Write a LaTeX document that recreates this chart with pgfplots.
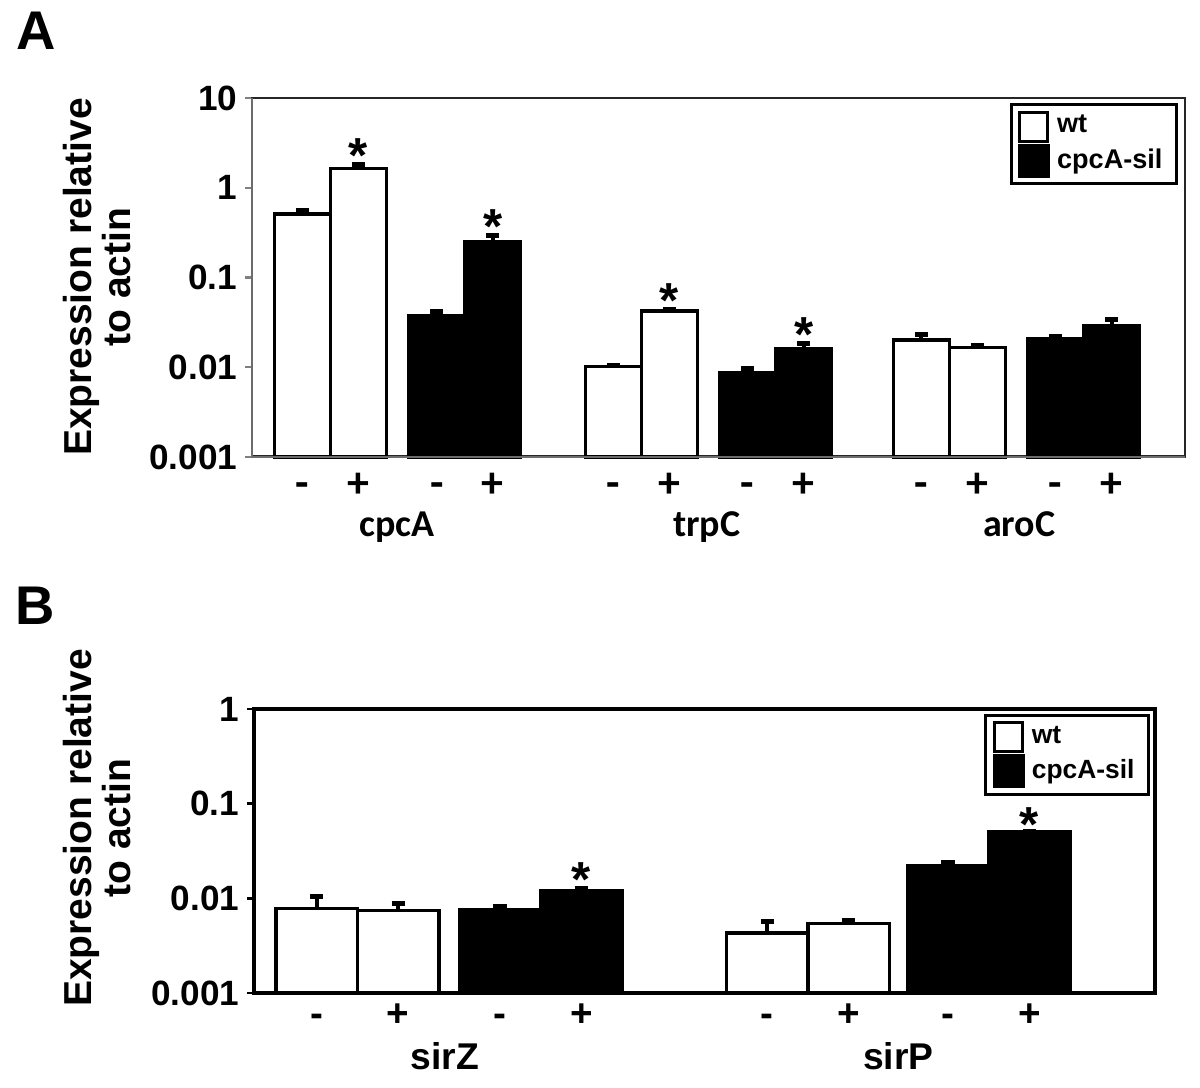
\documentclass[border=0pt]{standalone}
\usepackage{fontspec}
\setmainfont{Liberation Sans}
\newfontfamily\calibri{Carlito}
\usepackage{pgfplots}
\pgfplotsset{compat=1.18}
\pgfplotsset{
  errs/.style={error bars/y dir=plus, error bars/y explicit,
    error bars/error bar style={line width=1.2pt, black},
    error bars/error mark options={rotate=90, line width=1.4pt, mark size=1.9pt, black}},
  wtbar/.style={ybar, bar width=1, bar shift=0pt, fill=white, draw=black, line width=0.9pt, errs,
    legend image code/.code={\draw[fill=white, draw=black, line width=0.85pt] (0cm,-0.145cm) rectangle (0.28cm,0.145cm);}},
  silbar/.style={ybar, bar width=1, bar shift=0pt, fill=black, draw=black, line width=0.9pt, errs,
    legend image code/.code={\draw[fill=black, draw=black, line width=0.85pt] (0cm,-0.155cm) rectangle (0.29cm,0.155cm);}},
}
\tikzset{sigstar/.style={anchor=base, font=\bfseries\fontsize{14}{14}\selectfont, inner sep=0pt, yshift=-0.08cm}}
\begin{document}
\begin{tikzpicture}
\path[use as bounding box] (0,0) rectangle (12cm,10.88cm);
% ---------------- Panel A ----------------
\node[font=\bfseries\fontsize{15.5}{15.5}\selectfont] at (0.36cm,10.57cm) {A};
\node[rotate=90, align=center, font=\bfseries\fontsize{11.1}{9.9}\selectfont] at (0.97cm,8.11cm) {Expression relative\\to actin};
\begin{axis}[at={(2.52cm,6.31cm)}, anchor=south west, width=9.33cm, height=3.59cm,
  scale only axis, ymode=log, log origin y=infty, clip=false,
  ymin=0.001, yminorticks=false,
  tick align=outside, ytick pos=left, major tick length=0.07cm,
  xtick style={draw=none},
  yticklabel style={font=\bfseries\fontsize{10}{12}\selectfont, inner sep=2pt},
  legend style={draw=black, line width=0.85pt, font=\bfseries\fontsize{7.7}{9}\selectfont,
      inner xsep=2pt, inner ysep=1pt, row sep=-1pt},
  legend cell align=left,
  xmin=0, xmax=16.66, ymax=10,
  ytick={0.001,0.01,0.1,1,10}, yticklabels={0.001,0.01,0.1,1,10},
  xtick={0.9,1.9,3.3,4.3,6.45,7.45,8.85,9.85,11.95,12.95,14.35,15.35},
  xticklabels={-,+,-,+,-,+,-,+,-,+,-,+},
  xticklabel style={font=\calibri\bfseries\fontsize{12.5}{13}\selectfont, anchor=base, yshift=-0.34cm},
  axis line style={line width=0.85pt, black!85},
  ytick style={line width=0.6pt, gray},
  legend style={at={(0.9925,0.986)}, anchor=north east},
]
\addplot[wtbar] coordinates {
  (0.9,0.51) +- (0,0.045)
  (1.9,1.65) +- (0,0.15)
  (6.45,0.0102) +- (0,0.0003)
  (7.45,0.0424) +- (0,0.0017)
  (11.95,0.0201) +- (0,0.0030)
  (12.95,0.0167) +- (0,0.0006)
};
\addlegendentry{wt}
\addplot[silbar] coordinates {
  (3.3,0.0375) +- (0,0.0045)
  (4.3,0.25) +- (0,0.045)
  (8.85,0.0087) +- (0,0.0009)
  (9.85,0.0163) +- (0,0.0020)
  (14.35,0.021) +- (0,0.0012)
  (15.35,0.0293) +- (0,0.0046)
};
\addlegendentry{cpcA-sil}
\draw[gray!85!black, line width=0.8pt] (rel axis cs:0,1) -- (rel axis cs:0,0) -- (rel axis cs:1,0);
\node[sigstar] at (axis cs:1.9,1.80) {*};
\node[sigstar] at (axis cs:4.3,0.295) {*};
\node[sigstar] at (axis cs:7.45,0.0441) {*};
\node[sigstar] at (axis cs:9.85,0.0183) {*};
\node[anchor=base, font=\calibri\bfseries\fontsize{10.8}{12}\selectfont] at (axis cs:2.59,0.001) [yshift=-0.80cm] {cpcA};
\node[anchor=base, font=\calibri\bfseries\fontsize{10.8}{12}\selectfont] at (axis cs:8.12,0.001) [yshift=-0.80cm] {trpC};
\node[anchor=base, font=\calibri\bfseries\fontsize{10.8}{12}\selectfont] at (axis cs:13.7,0.001) [yshift=-0.80cm] {aroC};
\end{axis}
% ---------------- Panel B ----------------
\node[font=\bfseries\fontsize{15.5}{15.5}\selectfont] at (0.35cm,4.82cm) {B};
\node[rotate=90, align=center, font=\bfseries\fontsize{11.1}{9.9}\selectfont] at (0.97cm,2.60cm) {Expression relative\\to actin};
\begin{axis}[at={(2.54cm,0.95cm)}, anchor=south west, width=9.01cm, height=2.84cm,
  scale only axis, ymode=log, log origin y=infty, clip=false,
  ymin=0.001, yminorticks=false,
  tick align=outside, ytick pos=left, major tick length=0.07cm,
  xtick style={draw=none},
  yticklabel style={font=\bfseries\fontsize{10}{12}\selectfont, inner sep=2pt},
  legend style={draw=black, line width=0.85pt, font=\bfseries\fontsize{7.5}{9}\selectfont,
      inner xsep=2pt, inner ysep=1pt, row sep=-1pt},
  legend cell align=left,
  xmin=0, xmax=11.06, ymax=1,
  ytick={0.001,0.01,0.1,1}, yticklabels={0.001,0.01,0.1,1},
  xtick={0.77,1.77,3.02,4.02,6.3,7.3,8.52,9.52},
  xticklabels={-,+,-,+,-,+,-,+},
  xticklabel style={font=\bfseries\fontsize{11}{12}\selectfont, anchor=base, yshift=-0.27cm},
  axis line style={line width=0.9pt, black},
  ytick style={line width=0.7pt, black},
  legend style={at={(0.9945,0.982)}, anchor=north east},
]
\addplot[wtbar] coordinates {
  (0.77,0.0078) +- (0,0.0026)
  (1.77,0.0075) +- (0,0.0013)
  (6.3,0.0043) +- (0,0.0014)
  (7.3,0.00545) +- (0,0.0004)
};
\addlegendentry{wt}
\addplot[silbar] coordinates {
  (3.02,0.0076) +- (0,0.0007)
  (4.02,0.0120) +- (0,0.0006)
  (8.52,0.0221) +- (0,0.0019)
  (9.52,0.0506) +- (0,0.0001)
};
\addlegendentry{cpcA-sil}
\node[sigstar] at (axis cs:4.02,0.0126) {*};
\node[sigstar, yshift=-0.02cm] at (axis cs:9.52,0.0506) {*};
\node[anchor=base, font=\bfseries\fontsize{10.6}{12}\selectfont] at (axis cs:2.34,0.001) [yshift=-0.77cm] {sirZ};
\node[anchor=base, font=\bfseries\fontsize{10.6}{12}\selectfont] at (axis cs:7.91,0.001) [yshift=-0.77cm] {sirP};
\end{axis}
\end{tikzpicture}
\end{document}
